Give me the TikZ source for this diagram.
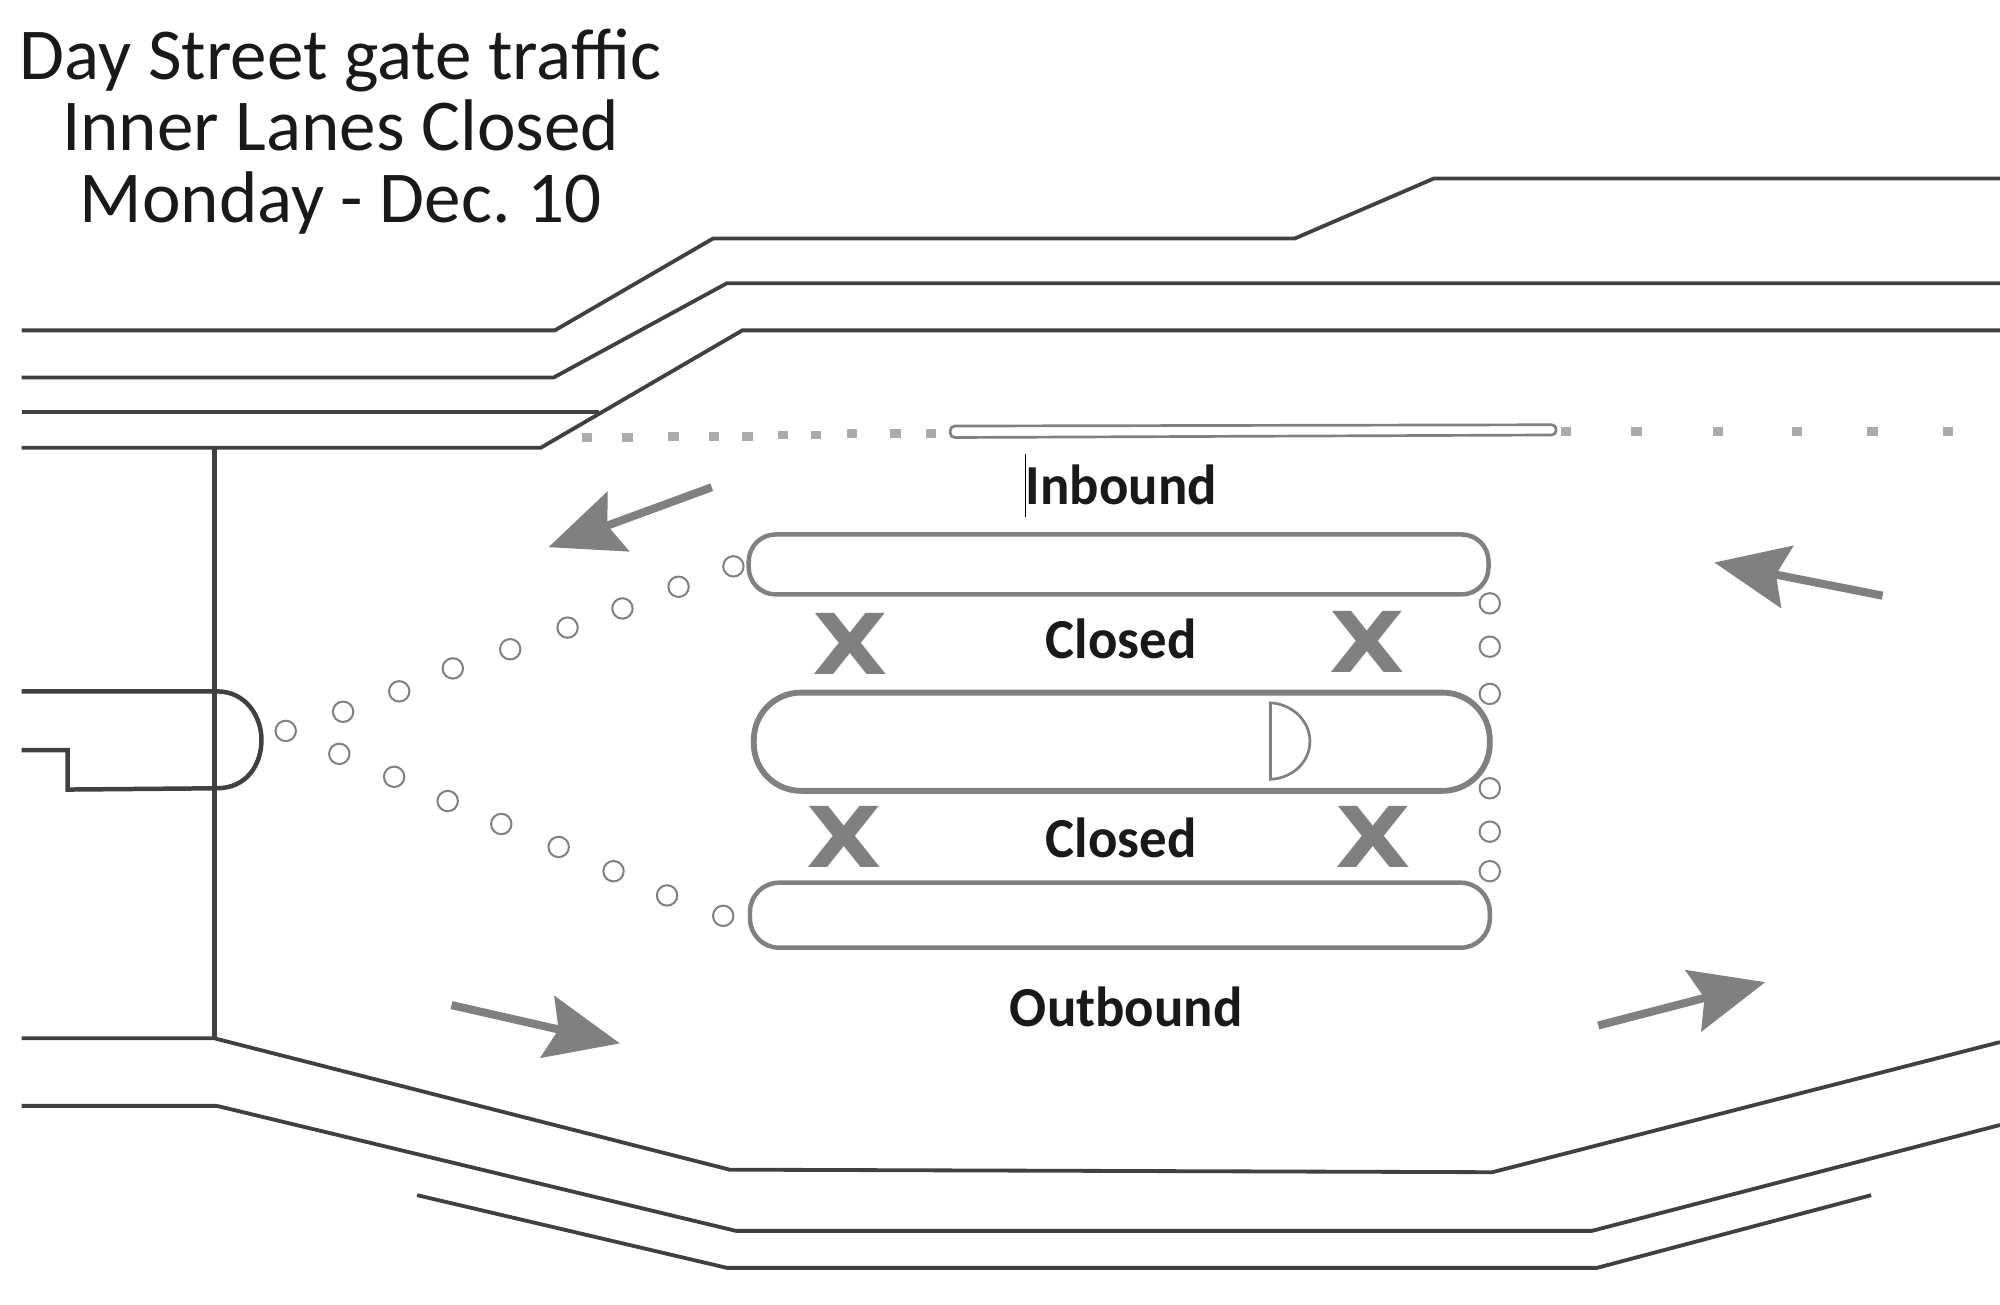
\documentclass[tikz,border=0pt]{standalone}
\usepackage{fontspec}
\setmainfont{Carlito}
\newfontfamily\xfont{DejaVu Sans}
\usepackage{xcolor}
\usepackage{tikz}
\usetikzlibrary{arrows.meta,positioning}
\definecolor{roadgray}{HTML}{404040}
\definecolor{conegray}{HTML}{808080}
\definecolor{dotgray}{HTML}{ABABAB}
\frenchspacing
\tikzset{
  road/.style={roadgray, line width=0.85pt, line join=miter},
  island/.style={conegray, line width=1pt},
  cone/.style={conegray, line width=0.45pt},
  flow/.style={conegray, line width=1.8pt, -{Stealth[length=16.5pt,width=14pt,inset=2.5pt]}},
  closedx/.style={font=\xfont\bfseries\fontsize{18.7}{20}\selectfont, text=conegray, inner sep=0pt, xscale=1.17},
  lanelabel/.style={font=\bfseries\fontsize{12.6}{15}\selectfont, text=black!90, inner sep=0pt, xscale=0.97}
}

\begin{document}
\begin{tikzpicture}[x=0.01cm,y=-0.01cm]

\useasboundingbox (0,0) rectangle (1568,1023);

% TITLE
  \node[font=\fontsize{16.3}{15.9}\selectfont, text=black!90, align=center, inner sep=0pt] (title) at (267,103)
    {Day Street gate traffic\\Inner Lanes Closed\\Monday - Dec. 10};

% TOP ROAD EDGES
  \draw[road] (17,259) -- (435,259) -- (559,187) -- (1015,187) -- (1124,140) -- (1568,140);
  \draw[road] (17,296) -- (434,296) -- (570,222) -- (1568,222);
  \draw[road] (17,323) -- (470,323);
  \draw[road] (17,351) -- (424,351) -- (582,259) -- (1568,259);

% BOTTOM ROAD EDGES
  \draw[road, line width=1.2pt] (168,351) -- (168,814);
  \draw[road] (17,814) -- (168,814) -- (572,917) -- (1170,919) -- (1568,817);
  \draw[road] (17,867) -- (170,867) -- (577,965) -- (1248,965) -- (1568,882);
  \draw[road] (327,937) -- (570,994) -- (1252,994) -- (1467,937);

% GATE
  \draw[road, line width=1pt] (17,542) -- (170,542) .. controls (193,542) and (205,562) .. (205,580)
    .. controls (205,600) and (193,618) .. (170,618) -- (53,619) -- (53,588) -- (17,588);

% MEDIAN
  \draw[road, gray, line width=0.6pt, rounded corners=1pt] (745,334) -- (1220,333) -- (1220,341) -- (745,343) -- cycle;
  \foreach \x/\y in {460/343, 492/343, 528/342, 560/342, 586/342, 614/341, 640/341, 668/340, 702/340, 730/340}
      \fill[dotgray] (\x-4,\y-3.5) rectangle (\x+4,\y+3.5);
  \foreach \x in {1228, 1283, 1347, 1409, 1468, 1527}
      \fill[dotgray] (\x-4,334.5) rectangle (\x+4,341.5);

% ISLANDS
  \draw[island, rounded corners=6pt] (587,419) rectangle (1167,466);
  \draw[island, line width=1.3pt, rounded corners=10.5pt] (591,543) rectangle (1168,620);
  \draw[island, rounded corners=6.5pt] (588,692) rectangle (1168,743);
  \draw[cone, line width=0.6pt] (996,551) .. controls (1014,552) and (1027,566) .. (1027,581)
    .. controls (1027,597) and (1014,610) .. (996,611) -- cycle;

% CONES
  \foreach \x/\y in {224/573, 269/558, 313/542, 355/524, 400/509, 445/492, 488/477, 532/460, 575/444}
      \draw[cone] (\x,\y) circle (8);
  \foreach \x/\y in {266/591, 309/609, 351/628, 393/646, 438/664, 481/683, 523/702, 567/718}
      \draw[cone] (\x,\y) circle (8);
  \foreach \y in {473, 507, 544, 618, 652, 683}
      \draw[cone] (1168,\y) circle (8);

% TRAFFIC ARROWS
  \draw[flow] (558,382) -- (430,429);
  \draw[flow] (1476,467) -- (1344,441);
  \draw[flow] (354,788) -- (486,818);
  \draw[flow] (1253,804) -- (1384,770);

% CLOSED MARKS
  \node[closedx] (xnw) at (667,505) {X};
  \node[closedx] (xne) at (1072,503) {X};
  \node[closedx] (xsw) at (662,656) {X};
  \node[closedx] (xse) at (1077,656) {X};

% LANE LABELS
  \node[lanelabel] (inbound) at (879,380) {Inbound};
  \node[lanelabel] (closedtop) at (879,501) {Closed};
  \node[lanelabel] (closedbot) at (879,657) {Closed};
  \node[lanelabel] (outbound) at (883,789) {Outbound};
  \draw[black, line width=0.3pt] (804,356) -- (804,405);

\end{tikzpicture}
\end{document}
